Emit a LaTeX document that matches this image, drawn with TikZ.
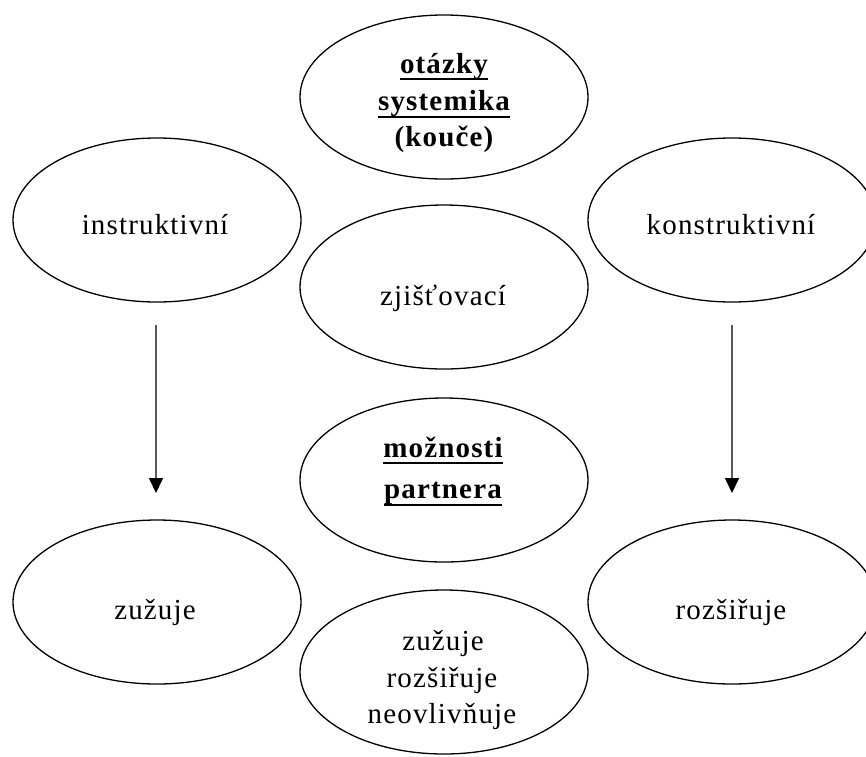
\documentclass[tikz,border=0pt]{standalone}
\usepackage{fontspec}
\setmainfont{Liberation Serif}[LetterSpace=4]
\usetikzlibrary{arrows.meta,shapes.geometric}
\begin{document}
\begin{tikzpicture}[x=1pt,y=-1pt,
  oval/.style={draw=black, line width=1.3pt, ellipse, minimum width=288pt, minimum height=164pt, inner sep=0pt},
  txt/.style={anchor=base, inner sep=0pt, font=\fontsize{29}{35}\selectfont},
  btxt/.style={txt, font=\fontsize{29}{35}\selectfont\bfseries},
  uline/.style={line width=2.5pt, black},
  down/.style={draw=black!65, line width=1.6pt, -{Triangle[width=14pt,length=15pt,color=black]}}
]
\useasboundingbox (0,0) rectangle (866,756);

% ellipses
\node[oval] (otazky) at (444,97) {};
\node[oval] (instr)  at (157,220) {};
\node[oval] (konstr) at (732,220) {};
\node[oval] (zjist)  at (444,287) {};
\node[oval] (moznos) at (444,480) {};
\node[oval] (zuz)    at (157,602) {};
\node[oval] (rozs)   at (732,602) {};
\node[oval] (vliv)   at (444,672) {};

% texts
\node[btxt] (t1) at (444,73)  {otázky};
\node[btxt] (t2) at (444,110) {systemika};
\node[btxt] (t3) at (444,146) {(kouče)};
\draw[uline] ([yshift=-6pt]t1.base west) -- ([yshift=-6pt]t1.base east);
\draw[uline] ([yshift=-7pt]t2.base west) -- ([yshift=-7pt]t2.base east);

\node[txt] (ti) at (155,234) {instruktivní};
\node[txt] (tk) at (731,234) {konstruktivní};
\node[txt] (tz) at (443,305) {zjišťovací};

\node[btxt] (m1) at (443,457) {možnosti};
\node[btxt] (m2) at (443,498) {partnera};
\draw[uline] ([yshift=-6pt]m1.base west) -- ([yshift=-6pt]m1.base east);
\draw[uline] ([yshift=-7pt]m2.base west) -- ([yshift=-7pt]m2.base east);

\node[txt] (tzu) at (155,619) {zužuje};
\node[txt] (tro) at (731,619) {rozšiřuje};

\node[txt] (b1) at (443,650) {zužuje};
\node[txt] (b2) at (442,687) {rozšiřuje};
\node[txt] (b3) at (442,723) {neovlivňuje};

% arrows
\coordinate (la) at (156,325);
\coordinate (lb) at (156,493);
\coordinate (ra) at (732,325);
\coordinate (rb) at (732,493);
\draw[down] (la) -- (lb);
\draw[down] (ra) -- (rb);
\end{tikzpicture}
\end{document}
